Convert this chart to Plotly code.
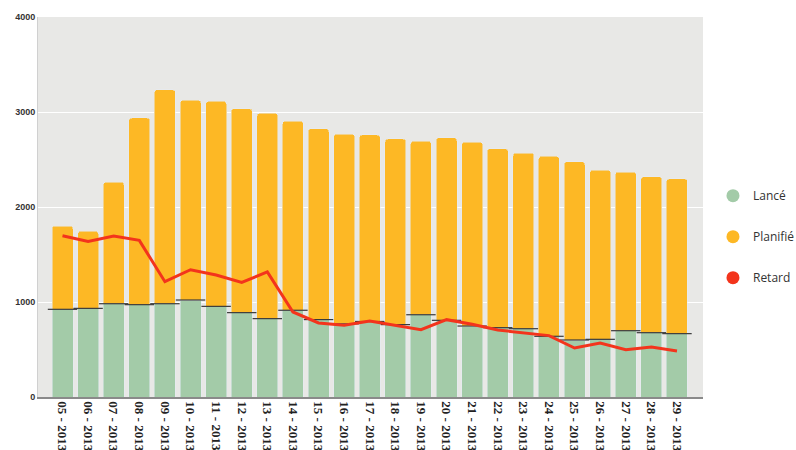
import plotly.graph_objects as go

categories = [f"{w:02d} - 2013" for w in range(5, 30)]

lance = [923, 933, 982, 972, 982, 1021, 954, 888, 825, 913, 815, 770, 795, 762, 866,
         807, 747, 730, 719, 639, 600, 607, 698, 677, 667]
total = [1800, 1744, 2260, 2937, 3235, 3123, 3112, 3035, 2986, 2905, 2825, 2768, 2758, 2716, 2691,
         2730, 2684, 2614, 2568, 2533, 2477, 2386, 2368, 2319, 2298]
planifie = [t - l for t, l in zip(total, lance)]
retard = [1698, 1638, 1695, 1649, 1214, 1340, 1284, 1207, 1316, 895, 779, 755, 800, 750, 708,
          814, 765, 705, 677, 646, 516, 568, 498, 526, 484]

GREEN = "#a3cba8"
ORANGE = "#fdb825"
RED = "#f3341c"

fig = go.Figure()
fig.add_trace(go.Bar(x=categories, y=lance, marker_color=GREEN, name="Lancé", showlegend=False))
fig.add_trace(go.Bar(x=categories, y=planifie, marker_color=ORANGE, name="Planifié", showlegend=False))
# thin dark separator on top of green segment
fig.add_trace(go.Scatter(x=categories, y=lance, mode="markers", showlegend=False, hoverinfo="skip",
                         marker=dict(symbol="line-ew", size=21, line=dict(color="#3a3a3a", width=1.2))))
fig.add_trace(go.Scatter(x=categories, y=retard, mode="lines", line=dict(color=RED, width=3),
                         name="Retard", showlegend=False))

# legend entries with circle markers
for nm, col, grp in [("Lancé", GREEN, "a"), ("Planifié", ORANGE, "b"), ("Retard", RED, "c")]:
    fig.add_trace(go.Scatter(x=[None], y=[None], mode="markers", name=nm, legendgroup=grp,
                             marker=dict(symbol="circle", size=13, color=col)))

fig.update_layout(
    width=796, height=450,
    barmode="stack", bargap=0.18, barcornerradius=3,
    paper_bgcolor="white", plot_bgcolor="#e8e8e6",
    margin=dict(l=38, r=93, t=17, b=53, autoexpand=False),
    font=dict(family="Open Sans, DejaVu Sans, sans-serif", color="#333333"),
    legend=dict(x=1.015, y=0.568, xanchor="left", yanchor="top", tracegroupgap=22,
                font=dict(size=12, color="#333333"), bgcolor="rgba(0,0,0,0)", itemwidth=30),
)
fig.update_xaxes(type="category", range=[-0.957, 25.016], tickangle=90, automargin=False,
                 showline=True, linecolor="#8a8a8a", linewidth=1.5, showgrid=False,
                 tickfont=dict(size=13, color="#222222", family="Liberation Serif, serif", weight="bold"),
                 ticks="")
fig.update_yaxes(range=[0, 4000], tickvals=[0, 1000, 2000, 3000, 4000], automargin=False,
                 showgrid=True, gridcolor="#ffffff", gridwidth=1, zeroline=False,
                 showline=True, linecolor="#d0d0d0", linewidth=1,
                 tickfont=dict(size=9, color="#333333", family="Liberation Sans, Arial, sans-serif", weight="bold"),
                 ticks="")

fig.write_html("out.html", config={"displayModeBar": False},
               post_script="document.body.style.margin='0';")
